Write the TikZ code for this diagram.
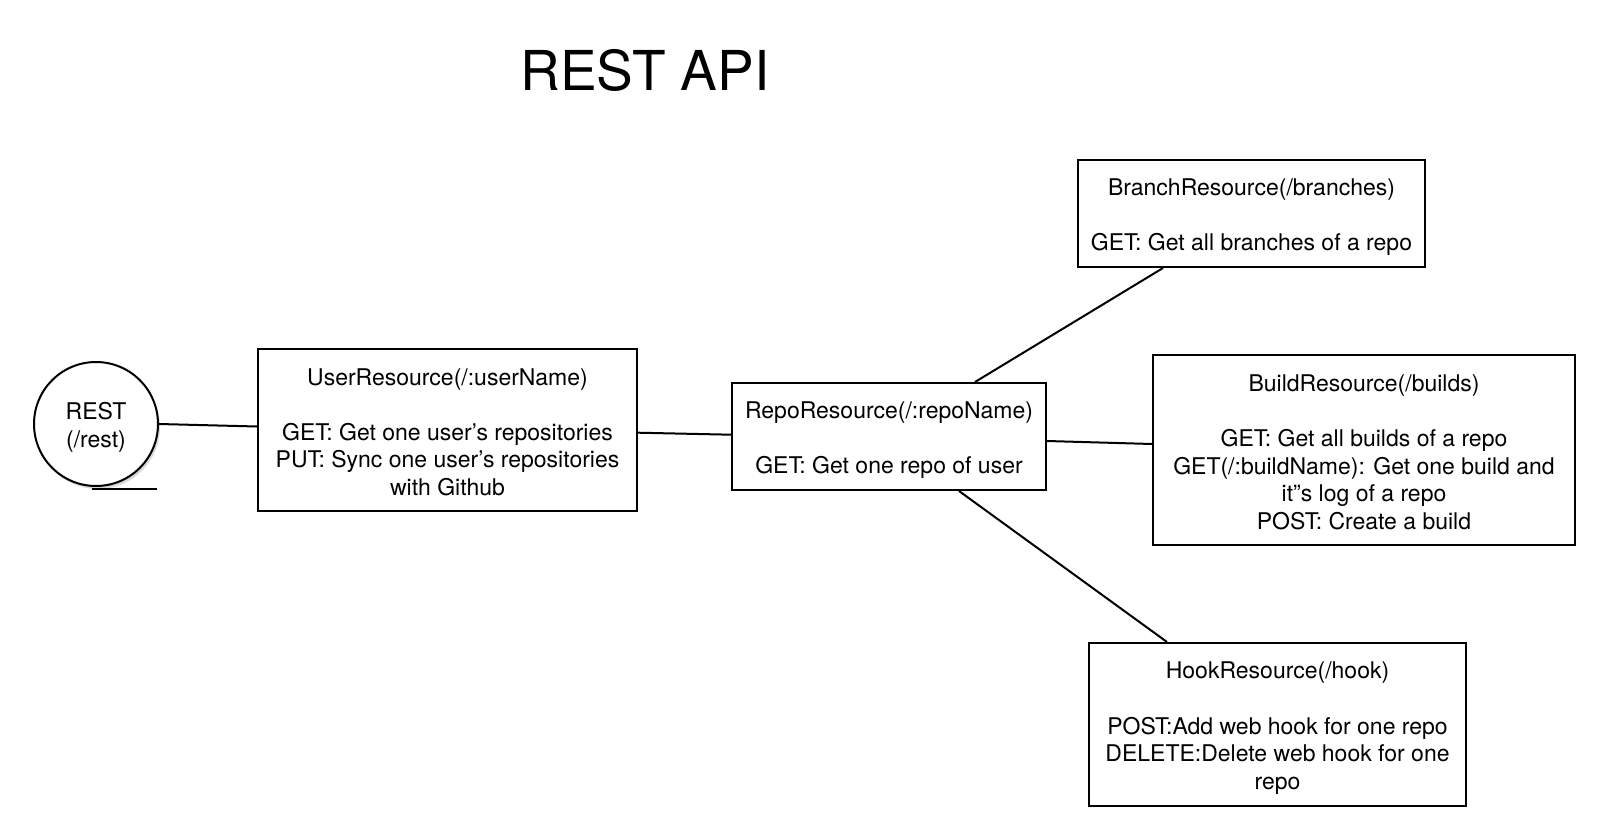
\documentclass[tikz,border=0pt]{standalone}
\usepackage{fontspec}
\setmainfont{TeX Gyre Heros}
\usetikzlibrary{shadows}
\newcommand{\Tp}{\rule{0pt}{24pt}}
\newcommand{\Bt}{\rule[-3.6pt]{0pt}{3.6pt}}
\begin{document}
\begin{tikzpicture}[x=1pt,y=-1pt,
  txt/.style={font=\fontsize{23}{27.6}\selectfont, align=center, inner sep=0pt},
  box/.style={txt, draw=black, line width=2pt, rectangle},
  conn/.style={draw=black, line width=2pt}]
\useasboundingbox (0,0) rectangle (1600,832);
\node[font=\fontsize{55}{60}\selectfont, anchor=base] (title) at (645,91) {REST API};
\node[txt, circle, draw=black, line width=2pt, minimum size=124pt, fill=white,
  drop shadow={shadow xshift=2pt, shadow yshift=-3pt, opacity=0.3}] (rest) at (96,424) {\Tp REST\\(/rest)\Bt};
\node[box, minimum width=379pt, minimum height=162pt] (user) at (447.5,430)
  {\Tp UserResource(/:userName)\\[27.6pt]GET: Get one user’s repositories\\PUT: Sync one user’s repositories\\with Github\Bt};
\node[box, minimum width=314pt, minimum height=107pt] (repo) at (889,436.5)
  {\Tp RepoResource(/:repoName)\\[27.6pt]GET: Get one repo of user\Bt};
\node[box, minimum width=347pt, minimum height=107pt] (branch) at (1251.5,213.5)
  {\Tp BranchResource(/branches)\\[27.6pt]GET: Get all branches of a repo\Bt};
\node[box, minimum width=422pt, minimum height=190pt] (build) at (1364,450)
  {\Tp BuildResource(/builds)\\[27.6pt]GET: Get all builds of a repo\\GET(/:buildName): Get one build and\\it”s log of a repo\\POST: Create a build\Bt};
\node[box, minimum width=377pt, minimum height=163pt] (hook) at (1277.5,724.5)
  {\Tp HookResource(/hook)\\[27.6pt]POST:Add web hook for one repo\\DELETE:Delete web hook for one\\repo\Bt};
\coordinate (ulA) at ([xshift=-4pt,yshift=-2pt]rest.south);
\coordinate (ulB) at ([xshift=61pt,yshift=-2pt]rest.south);
\draw[conn] (ulA) -- (ulB);
\draw[conn] ([yshift=0pt]rest.east) -- ([yshift=3.5pt]user.west);
\draw[conn] ([yshift=-2.7pt]user.east) -- ([yshift=1.8pt]repo.west);
\draw[conn] ([xshift=86pt]repo.north) -- ([xshift=-88.5pt]branch.south);
\draw[conn] ([yshift=-4.5pt]repo.east) -- ([yshift=6pt]build.west);
\draw[conn] ([xshift=70pt]repo.south) -- ([xshift=-110.5pt]hook.north);
\end{tikzpicture}
\end{document}
